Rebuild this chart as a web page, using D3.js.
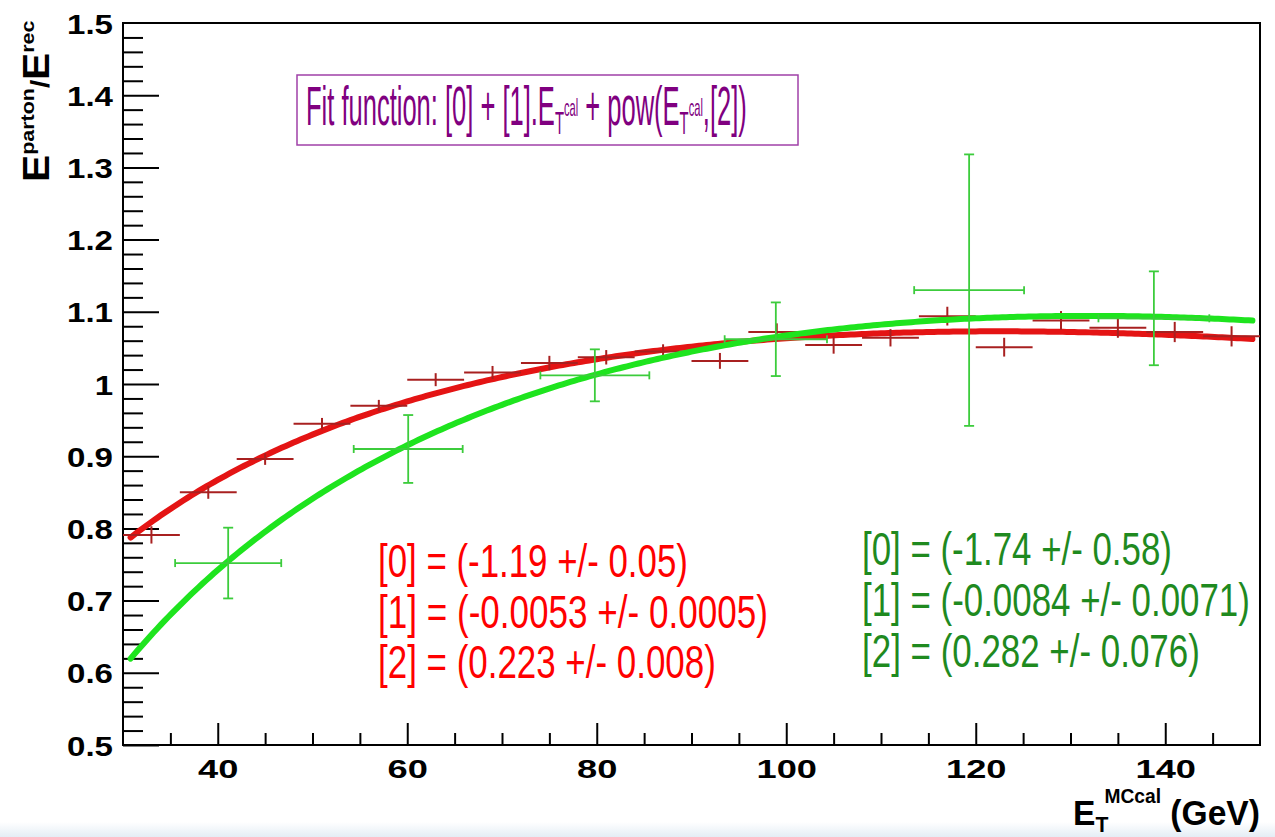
<!DOCTYPE html>
<html>
<head>
<meta charset="utf-8">
<script src="https://cdn.jsdelivr.net/npm/d3@7"></script>
<style>
  body { margin: 0; background: #fff; }
  svg { display: block; }
</style>
</head>
<body>
<svg id="chart" width="1275" height="837"></svg>
<script>
// ---- data: jet energy correction vs transverse energy ----
// red sample (fine binning, small errors)
const redX    = [33, 39, 45, 51, 57, 63, 69, 75, 81, 87, 93, 99, 105, 111, 117, 123, 129, 135, 141, 147];
const redY    = [0.791, 0.850, 0.896, 0.945, 0.970, 1.006, 1.016, 1.029, 1.037, 1.045,
                 1.032, 1.072, 1.054, 1.064, 1.094, 1.051, 1.088, 1.078, 1.072, 1.066];
const redXErr = [3, 3, 3, 3, 3, 3, 3, 3, 3, 3, 3, 3, 3, 3, 3, 3, 3, 3, 3, 3];
const redYErr = [0.012, 0.009, 0.008, 0.008, 0.008, 0.009, 0.009, 0.010, 0.010, 0.010,
                 0.011, 0.012, 0.012, 0.012, 0.013, 0.013, 0.013, 0.014, 0.014, 0.014];

// green sample (coarse binning, large errors)
const greenX    = [41.1, 60.1, 79.8, 98.9, 119.3, 138.8];
const greenY    = [0.752, 0.910, 1.012, 1.062, 1.130, 1.091];
const greenXErr = [5.6, 5.75, 5.75, 5.4, 5.8, 5.85];
const greenYErr = [0.049, 0.047, 0.036, 0.051, 0.188, 0.065];

// fit results  f(E) = [0] + [1]*E + pow(E,[2]); printed rounded to the shown precision
const redPars     = [-1.194, -0.00530, 0.2226];
const redParErr   = [0.05, 0.0005, 0.008];
const greenPars   = [-1.7449, -0.00844, 0.28151];
const greenParErr = [0.58, 0.0071, 0.076];
const parDigits   = [2, 4, 3];

// axis ticks
const xMajor = [40, 60, 80, 100, 120, 140];
const xMinor = [35, 45, 50, 55, 65, 70, 75, 85, 90, 95, 105, 110, 115, 125, 130, 135, 145];
const yMajor = [0.5, 0.6, 0.7, 0.8, 0.9, 1.0, 1.1, 1.2, 1.3, 1.4, 1.5];
const yMinor = d3.range(0, 51).map(i => +(0.5 + i * 0.02).toFixed(2)).filter(v => !yMajor.includes(v));

// ---- layout ----
const svg = d3.select("#chart");
const FONT = "'Liberation Sans', Arial, Helvetica, sans-serif";
const frame = { l: 123, r: 1260, t: 23, b: 745 };

const x = d3.scaleLinear().domain([30, 150]).range([frame.l, frame.r]);
const y = d3.scaleLinear().domain([0.5, 1.5]).range([frame.b, frame.t]);

// faint slide backdrop along the bottom edge
const bg = svg.append("defs").append("linearGradient").attr("id", "fade")
  .attr("x1", 0).attr("y1", 0).attr("x2", 0).attr("y2", 1);
bg.append("stop").attr("offset", 0).attr("stop-color", "#ffffff");
bg.append("stop").attr("offset", 1).attr("stop-color", "#e4edf5");
svg.append("rect").attr("x", 0).attr("y", 822).attr("width", 1275).attr("height", 15)
  .attr("fill", "url(#fade)");

// lay out a text at origin, then squeeze/stretch it horizontally to a given width
function fitText(parent, x0, y0, width, build, rotate) {
  const g = parent.append("g");
  const t = g.append("text").attr("x", 0).attr("y", 0);
  build(t);
  const w = t.node().getBBox().width;
  const s = width / w;
  g.attr("transform", rotate
    ? `translate(${x0},${y0}) rotate(-90) scale(${s},1)`
    : `translate(${x0},${y0}) scale(${s},1)`);
  return g;
}

// ---- axes (ticks point inward) ----
function styleAxis(g) {
  g.select(".domain").remove();
  g.selectAll(".tick line").attr("stroke", "#000").attr("stroke-width", 2);
  g.attr("font-family", null).attr("font-size", null);
}

const yMinorAxis = svg.append("g").attr("transform", `translate(${frame.l},0)`)
  .call(d3.axisLeft(y).tickValues(yMinor).tickSizeInner(-20).tickSizeOuter(0).tickFormat(""));
styleAxis(yMinorAxis);

const yMajorAxis = svg.append("g").attr("transform", `translate(${frame.l},0)`)
  .call(d3.axisLeft(y).tickValues(yMajor).tickSizeInner(-36).tickSizeOuter(0)
    .tickFormat(d => d === 1 ? "1" : d3.format(".1f")(d)));
styleAxis(yMajorAxis);
yMajorAxis.selectAll(".tick line").filter(d => d === 1.5).remove();
yMajorAxis.selectAll(".tick text")
  .attr("x", 0).attr("dy", "0.36em")
  .attr("transform", "translate(-10,0) scale(1.18,1)")
  .attr("text-anchor", "end")
  .attr("font-family", FONT).attr("font-weight", "bold").attr("font-size", 28).attr("fill", "#000");

const xMinorAxis = svg.append("g").attr("transform", `translate(0,${frame.b})`)
  .call(d3.axisBottom(x).tickValues(xMinor).tickSizeInner(-12).tickSizeOuter(0).tickFormat(""));
styleAxis(xMinorAxis);

const xMajorAxis = svg.append("g").attr("transform", `translate(0,${frame.b})`)
  .call(d3.axisBottom(x).tickValues(xMajor).tickSizeInner(-22).tickSizeOuter(0).tickFormat(d3.format("d")));
styleAxis(xMajorAxis);
xMajorAxis.selectAll(".tick text")
  .attr("y", 0).attr("dy", 0)
  .attr("transform", "translate(0,33) scale(1.45,1)")
  .attr("text-anchor", "middle")
  .attr("font-family", FONT).attr("font-weight", "bold").attr("font-size", 25).attr("fill", "#000");

// frame
svg.append("rect").attr("x", frame.l).attr("y", frame.t)
  .attr("width", frame.r - frame.l).attr("height", frame.b - frame.t)
  .attr("fill", "none").attr("stroke", "#000").attr("stroke-width", 2);

// ---- fit curves ----
const fitFn = p => e => p[0] + p[1] * e + Math.pow(e, p[2]);
const eGrid = d3.range(30.8, 149.4, 0.4);
const line = d3.line().x(d => x(d[0])).y(d => y(d[1]));

function drawCurve(pars, color) {
  const f = fitFn(pars);
  svg.append("path").datum(eGrid.map(e => [e, f(e)]))
    .attr("d", line).attr("fill", "none")
    .attr("stroke", color).attr("stroke-width", 6)
    .attr("stroke-linecap", "round");
}

// ---- error-bar markers ----
function drawPoints(xs, ys, xe, ye, color, width, cap) {
  const g = svg.append("g").attr("stroke", color).attr("stroke-width", width).attr("fill", "none");
  const pts = xs.map((v, i) => ({ x: v, y: ys[i], ex: xe[i], ey: ye[i] }));
  const p = g.selectAll("g").data(pts).join("g");
  p.append("line").attr("x1", d => x(d.x - d.ex)).attr("x2", d => x(d.x + d.ex))
    .attr("y1", d => y(d.y)).attr("y2", d => y(d.y));
  p.append("line").attr("x1", d => x(d.x)).attr("x2", d => x(d.x))
    .attr("y1", d => y(d.y - d.ey)).attr("y2", d => y(d.y + d.ey));
  if (cap) {
    [-1, 1].forEach(s => {
      p.append("line").attr("x1", d => x(d.x) - 5).attr("x2", d => x(d.x) + 5)
        .attr("y1", d => y(d.y + s * d.ey)).attr("y2", d => y(d.y + s * d.ey));
      p.append("line").attr("x1", d => x(d.x + s * d.ex)).attr("x2", d => x(d.x + s * d.ex))
        .attr("y1", d => y(d.y) - 4).attr("y2", d => y(d.y) + 4);
    });
  }
}

drawCurve(redPars, "#e41414");
drawPoints(redX, redY, redXErr, redYErr, "#a82020", 2, false);
drawCurve(greenPars, "#1ee41e");
drawPoints(greenX, greenY, greenXErr, greenYErr, "#3ccc3c", 1.8, true);

// ---- fit-function box ----
svg.append("rect").attr("x", 297).attr("y", 75).attr("width", 501).attr("height", 70)
  .attr("fill", "#fff").attr("stroke", "#a040a8").attr("stroke-width", 1.5);

fitText(svg, 306, 125, 441, t => {
  t.attr("font-family", FONT).attr("font-size", 55).attr("fill", "#800080");
  t.append("tspan").text("Fit function: [0] + [1].E");
  t.append("tspan").attr("font-size", 32).attr("dy", 9).text("T");
  t.append("tspan").attr("font-size", 24).attr("dy", -18).text("cal");
  t.append("tspan").attr("dy", 9).text(" + pow(E");
  t.append("tspan").attr("font-size", 32).attr("dy", 9).text("T");
  t.append("tspan").attr("font-size", 24).attr("dy", -18).text("cal");
  t.append("tspan").attr("dy", 9).text(",[2])");
});

// ---- fit parameter listings ----
const parLine = (p, e) => p.map((v, i) =>
  `[${i}] = (${v.toFixed(parDigits[i])} +/- ${e[i].toFixed(parDigits[i])})`);
const redW = [310, 390, 338], greenW = [310, 388, 338];
parLine(redPars, redParErr).forEach((s, i) => {
  fitText(svg, 378, 577 + i * 50.5, redW[i], t => {
    t.attr("font-family", FONT).attr("font-size", 46).attr("fill", "#ff0000").text(s);
  });
});
parLine(greenPars, greenParErr).forEach((s, i) => {
  fitText(svg, 862, 565 + i * 51, greenW[i], t => {
    t.attr("font-family", FONT).attr("font-size", 46).attr("fill", "#1f8a1f").text(s);
  });
});

// ---- axis titles ----
fitText(svg, 49, 182, 162, t => {
  t.attr("font-family", FONT).attr("font-weight", "bold").attr("font-size", 36).attr("fill", "#000");
  t.append("tspan").text("E");
  t.append("tspan").attr("font-size", 19).attr("dy", -15).text("parton");
  t.append("tspan").attr("font-size", 26).attr("dy", 15).text("/");
  t.append("tspan").text("E");
  t.append("tspan").attr("font-size", 19).attr("dy", -15).text("rec");
}, true);

fitText(svg, 1073, 825, 187, t => {
  t.attr("font-family", FONT).attr("font-weight", "bold").attr("font-size", 35).attr("fill", "#000");
  t.append("tspan").text("E");
  t.append("tspan").attr("font-size", 22).attr("dy", 7).text("T");
  t.append("tspan").attr("font-size", 20).attr("dy", -29).attr("dx", -4).text("MCcal");
  t.append("tspan").attr("dy", 22).text(" (GeV)");
});
</script>
</body>
</html>
